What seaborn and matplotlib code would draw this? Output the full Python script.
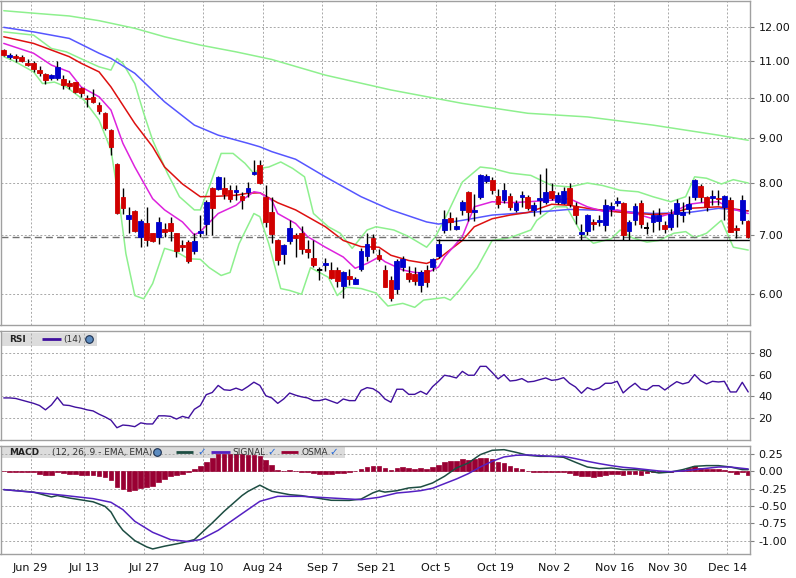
import numpy as np
import matplotlib
matplotlib.use("Agg")
import matplotlib.pyplot as plt
import seaborn as sns
from matplotlib.ticker import FixedLocator, NullLocator, FuncFormatter, FixedFormatter
from matplotlib.patches import Rectangle

# ---------------- data ----------------
opens = [11.31, 11.12, 11.15, 11.12, 10.94, 10.94, 10.74, 10.63, 10.53, 10.53,
         10.50, 10.39, 10.42, 10.25, 9.99, 10.02, 9.81, 9.60, 9.19, 8.41,
         7.72, 7.30, 7.45, 6.97, 7.22, 7.03, 6.96, 7.10, 7.22, 7.03,
         6.82, 6.87, 6.72, 7.03, 7.21, 7.91, 7.89, 7.91, 7.87, 7.82,
         7.75, 7.82, 8.21, 8.39, 7.73, 7.43, 6.91, 6.66, 6.89, 6.99,
         7.03, 6.74, 6.59, 6.39, 6.48, 6.39, 6.39, 6.13, 6.29, 6.17,
         6.40, 6.62, 6.95, 6.65, 6.39, 6.22, 6.08, 6.44, 6.34, 6.32,
         6.14, 6.39, 6.44, 6.63, 7.09, 7.32, 7.11, 7.46, 7.82, 7.42,
         7.73, 8.05, 8.08, 7.74, 7.66, 7.74, 7.47, 7.73, 7.73, 7.47,
         7.66, 7.63, 7.84, 7.63, 7.61, 7.91, 7.55, 7.01, 7.08, 7.24,
         7.24, 7.18, 7.48, 7.60, 7.60, 7.07, 7.27, 7.60, 7.12, 7.23,
         7.26, 7.18, 7.15, 7.40, 7.37, 7.49, 7.72, 7.94, 7.72, 7.70,
         7.71, 7.53, 7.67, 7.12, 7.28, 7.26]
highs = [11.34, 11.22, 11.20, 11.18, 11.04, 11.00, 10.85, 10.66, 10.64, 11.00,
         10.61, 10.48, 10.42, 10.28, 10.06, 10.22, 9.89, 9.64, 9.21, 8.44,
         7.90, 7.52, 7.47, 7.30, 7.53, 7.04, 7.34, 7.22, 7.34, 7.04,
         6.91, 6.90, 7.03, 7.38, 7.67, 7.93, 8.15, 8.13, 7.96, 7.97,
         7.82, 8.04, 8.51, 8.50, 7.96, 7.73, 6.93, 6.84, 7.27, 7.03,
         7.17, 6.91, 6.90, 6.44, 6.59, 6.52, 6.44, 6.37, 6.41, 6.27,
         6.76, 7.03, 7.01, 6.75, 6.47, 6.29, 6.58, 6.62, 6.46, 6.44,
         6.39, 6.47, 6.60, 6.93, 7.47, 7.43, 7.34, 7.67, 7.85, 7.79,
         8.20, 8.19, 8.13, 7.89, 8.01, 7.80, 7.67, 7.85, 7.76, 7.63,
         8.20, 8.32, 8.01, 7.83, 7.93, 8.01, 7.63, 7.21, 7.40, 7.30,
         7.37, 7.69, 7.63, 7.72, 7.63, 7.27, 7.60, 7.67, 7.24, 7.47,
         7.50, 7.26, 7.48, 7.69, 7.63, 7.74, 8.10, 7.99, 7.74, 7.87,
         7.86, 7.76, 7.72, 7.18, 7.76, 7.27]
lows = [11.14, 11.04, 10.96, 10.96, 10.85, 10.69, 10.57, 10.37, 10.46, 10.46,
        10.23, 10.22, 10.11, 10.01, 9.75, 9.85, 9.58, 9.19, 8.61, 7.39,
        7.40, 7.03, 7.05, 6.78, 6.81, 6.87, 6.84, 6.96, 6.89, 6.61,
        6.72, 6.51, 6.67, 6.96, 6.99, 7.00, 7.86, 7.69, 7.62, 7.67,
        7.49, 7.72, 8.17, 7.99, 7.15, 6.85, 6.48, 6.49, 6.84, 6.61,
        6.67, 6.60, 6.44, 6.23, 6.37, 6.25, 6.11, 5.94, 6.14, 6.16,
        6.37, 6.55, 6.68, 6.54, 6.11, 5.89, 6.00, 6.37, 6.19, 6.14,
        6.04, 6.11, 6.38, 6.59, 7.04, 7.09, 7.09, 7.38, 7.25, 7.25,
        7.68, 8.01, 7.79, 7.51, 7.61, 7.47, 7.42, 7.53, 7.47, 7.35,
        7.39, 7.58, 7.67, 7.58, 7.58, 7.53, 7.20, 6.90, 7.00, 7.09,
        7.16, 7.07, 7.35, 7.54, 6.91, 6.91, 7.19, 7.12, 7.01, 7.05,
        7.09, 7.04, 7.09, 7.15, 7.24, 7.40, 7.66, 7.63, 7.44, 7.56,
        7.56, 7.27, 7.05, 6.94, 7.20, 6.94]
closes = [11.17, 11.18, 11.09, 11.00, 10.88, 10.78, 10.65, 10.47, 10.59, 10.83,
          10.34, 10.31, 10.15, 10.13, 9.95, 9.88, 9.65, 9.24, 8.80, 7.41,
          7.51, 7.37, 7.07, 7.26, 6.90, 6.89, 7.23, 7.06, 7.07, 6.72,
          6.79, 6.55, 6.89, 7.07, 7.63, 7.50, 8.13, 7.78, 7.69, 7.86,
          7.67, 7.90, 8.25, 8.01, 7.24, 7.01, 6.56, 6.82, 7.12, 6.95,
          6.75, 6.70, 6.48, 6.39, 6.51, 6.26, 6.21, 6.35, 6.24, 6.25,
          6.71, 6.83, 6.75, 6.58, 6.12, 5.94, 6.55, 6.57, 6.25, 6.21,
          6.35, 6.19, 6.57, 6.84, 7.30, 7.24, 7.16, 7.63, 7.42, 7.47,
          8.17, 8.15, 7.87, 7.58, 7.87, 7.52, 7.60, 7.77, 7.51, 7.57,
          7.70, 7.82, 7.71, 7.77, 7.84, 7.58, 7.37, 7.05, 7.37, 7.21,
          7.28, 7.56, 7.54, 7.64, 7.00, 7.24, 7.54, 7.21, 7.12, 7.37,
          7.37, 7.11, 7.40, 7.60, 7.43, 7.58, 8.08, 7.72, 7.52, 7.74,
          7.68, 7.75, 7.06, 7.09, 7.66, 6.96]

# long moving average (light green, top)
ma_long_idx = [0, 5, 11, 16, 22, 27, 33, 39, 45, 54, 65, 77, 88, 98, 109, 120, 125]
ma_long = [12.53, 12.45, 12.36, 12.21, 11.97, 11.71, 11.46, 11.26, 11.04, 10.60,
           10.20, 9.85, 9.60, 9.51, 9.31, 9.07, 8.95]
# blue moving average
ma_blue_idx = [0, 5, 11, 16, 18, 22, 27, 32, 36, 41, 43, 45, 49, 54, 60, 65, 71, 73,
               77, 82, 88, 92, 95, 98, 103, 109, 115, 120, 125]
ma_blue = [12.00, 11.86, 11.66, 11.22, 11.07, 10.65, 9.89, 9.31, 9.07, 8.88, 8.80,
           8.69, 8.52, 8.14, 7.73, 7.47, 7.24, 7.20, 7.27, 7.37, 7.42, 7.45, 7.48,
           7.47, 7.45, 7.40, 7.42, 7.50, 7.45]
# red moving average
ma_red_idx = [0, 5, 11, 13, 16, 18, 22, 25, 27, 30, 33, 36, 39, 41, 43, 46, 49, 51,
              54, 57, 60, 63, 65, 68, 71, 73, 77, 79, 82, 85, 88, 92, 95, 98, 103,
              109, 112, 115, 120, 125]
ma_red = [11.71, 11.51, 11.12, 10.93, 10.69, 10.28, 9.35, 8.80, 8.35, 7.99, 7.73,
          7.74, 7.76, 7.80, 7.81, 7.61, 7.47, 7.34, 7.15, 6.90, 6.79, 6.78, 6.64,
          6.55, 6.50, 6.58, 6.90, 7.15, 7.30, 7.37, 7.42, 7.58, 7.56, 7.50, 7.43,
          7.38, 7.40, 7.50, 7.53, 7.45]
# magenta moving average
ma_mag_idx = [0, 5, 8, 11, 13, 16, 18, 20, 22, 25, 27, 30, 32, 33, 36, 39, 40, 42,
              43, 45, 46, 49, 51, 54, 57, 59, 61, 63, 64, 67, 69, 71, 73, 74, 77,
              79, 82, 85, 88, 92, 95, 98, 101, 103, 106, 109, 112, 115, 117, 120,
              122, 125]
ma_mag = [11.51, 11.22, 10.88, 10.69, 10.28, 10.02, 9.68, 8.88, 8.35, 7.69, 7.47,
          7.24, 7.00, 7.06, 7.40, 7.56, 7.66, 7.83, 7.81, 7.66, 7.40, 7.21, 6.97,
          6.78, 6.61, 6.42, 6.50, 6.61, 6.53, 6.39, 6.35, 6.34, 6.44, 6.61, 6.97,
          7.53, 7.63, 7.61, 7.63, 7.66, 7.69, 7.53, 7.43, 7.47, 7.40, 7.30, 7.40,
          7.58, 7.61, 7.63, 7.50, 7.40]
# Bollinger bands
bb_up_idx = [0, 5, 8, 10.5, 13.5, 16, 18, 19, 20, 22, 23.5, 25, 27.5, 29.5, 32, 33,
             34.5, 36.5, 38.5, 40.5, 42, 43, 44.5, 46.5, 48.5, 50.5, 52, 54.5, 56.5,
             58.5, 61, 62.5, 65.5, 68, 71, 72.5, 74.5, 77, 80, 82, 85, 88.5, 92, 95,
             98, 100.5, 103.5, 106.5, 109, 112, 114.5, 116, 118, 120.5, 122.5, 125]
bb_up = [11.86, 11.76, 11.36, 11.26, 11.02, 10.83, 10.74, 11.07, 10.93, 10.37, 9.60,
         8.95, 8.21, 7.73, 7.47, 7.47, 7.93, 8.65, 8.65, 8.43, 8.21, 8.32, 8.35, 8.46,
         8.32, 8.14, 7.40, 7.15, 7.03, 6.76, 7.09, 7.15, 7.09, 6.97, 6.78, 6.97, 7.40,
         8.03, 8.35, 8.32, 8.22, 8.17, 7.96, 7.93, 8.01, 7.96, 7.86, 7.83, 7.73, 7.63,
         7.73, 8.14, 8.11, 7.99, 8.08, 8.01]
bb_lo_idx = [0, 2, 5, 6.5, 8.5, 10.5, 13.5, 16, 18, 19.5, 20.5, 22, 23.5, 25, 27, 29,
             31, 33, 34.5, 36.5, 38, 39.5, 42, 43, 44.5, 46.5, 48, 50, 51.5, 54.5, 56,
             57.5, 60, 62.5, 64.5, 67, 69, 70.5, 74, 75, 76.5, 79.5, 82, 85, 88.5,
             89.5, 92.5, 94.5, 97, 99, 102, 103.5, 105.5, 108, 110, 112.5, 114.5, 116,
             118, 120.5, 122.5, 125]
bb_lo = [11.12, 10.97, 10.69, 10.37, 10.41, 10.28, 9.93, 9.43, 8.73, 7.53, 6.67,
         5.98, 5.93, 6.17, 6.76, 6.70, 6.58, 6.57, 6.43, 6.30, 6.35, 6.84, 7.40, 7.34,
         6.84, 6.09, 6.06, 6.00, 6.43, 6.27, 5.98, 6.11, 6.09, 6.02, 5.82, 5.86, 5.80,
         5.91, 5.95, 5.91, 6.06, 6.43, 6.90, 6.95, 7.09, 7.27, 7.53, 7.53, 7.03, 6.85,
         6.93, 7.09, 6.95, 6.87, 6.90, 7.03, 7.06, 6.95, 7.03, 7.27, 6.78, 6.73]
last_price = 6.96
support_level = 6.90
support_start = 72.5

rsi = [38.5, 38.5, 38, 36.5, 35, 33.5, 31.5, 27.5, 32, 39,
       32, 31.5, 30, 29, 27.5, 26.5, 23.5, 21, 18, 11,
       13.5, 13, 12, 15.5, 14.5, 14.5, 22, 22, 21.5, 19,
       21.5, 20, 28, 31.5, 41.5, 43.5, 50, 46, 45.5, 47.5,
       45.5, 49, 53, 50, 40.5, 38.5, 33.5, 37.5, 43, 41,
       39.5, 38.5, 36, 36, 37.5, 35.5, 33.5, 37.5, 36, 36,
       45.5, 48, 47, 43.5, 37.5, 34.5, 46.5, 46.5, 41.8, 41.8,
       44.6, 41.8, 48.9, 53.8, 59.4, 58.4, 56.9, 63, 59.4, 59.4,
       67.6, 67.6, 62, 56, 60, 54.1, 54.7, 56.3, 53.2, 53.8,
       55.4, 56.9, 54.7, 55.4, 57.2, 52, 48.6, 42.8, 48, 45.8,
       47.7, 52, 52, 53.8, 43.1, 48, 52, 46.8, 45.8, 49.8,
       49.8, 45.8, 49.8, 53.5, 51.4, 52.9, 60, 54.4, 51.4, 53.8,
       53.2, 53.8, 44, 44, 52.9, 44]

macd_idx = [0, 5, 8, 9, 11, 15, 17, 18, 19, 20, 22, 24, 25, 27, 30, 32, 35, 37, 40,
            41, 43, 45, 48, 50, 55, 58, 60, 62, 63, 64, 66, 68, 70, 72, 74, 76, 78,
            80, 82, 84, 86, 88, 90, 92, 94, 96, 98, 100, 102, 104, 106, 108, 110,
            112, 114, 116, 118, 120, 122, 124, 125]
macd = [-0.264, -0.30, -0.37, -0.35, -0.385, -0.44, -0.505, -0.587, -0.736, -0.851,
        -1.00, -1.09, -1.12, -1.08, -1.03, -0.985, -0.745, -0.577, -0.35, -0.29,
        -0.20, -0.288, -0.337, -0.351, -0.418, -0.42, -0.40, -0.31, -0.28, -0.30,
        -0.28, -0.24, -0.226, -0.168, -0.072, 0.048, 0.12, 0.24, 0.303, 0.312,
        0.274, 0.231, 0.216, 0.216, 0.202, 0.13, 0.062, 0.038, 0.048, 0.024, 0.024,
        0.01, -0.024, -0.01, 0.024, 0.072, 0.082, 0.082, 0.062, 0.024, 0.024]
signal_idx = [0, 5, 10, 15, 18, 20, 22, 25, 28, 31, 33, 36, 40, 43, 46, 50, 55, 60,
              63, 66, 68, 70, 72, 74, 76, 78, 80, 82, 84, 86, 88, 90, 92, 94, 96, 98,
              100, 102, 104, 106, 108, 110, 112, 114, 116, 118, 120, 122, 124, 125]
signal = [-0.264, -0.303, -0.346, -0.394, -0.447, -0.553, -0.721, -0.88, -0.985,
          -1.014, -0.985, -0.851, -0.611, -0.433, -0.361, -0.361, -0.385, -0.409,
          -0.375, -0.313, -0.298, -0.279, -0.245, -0.178, -0.111, -0.034, 0.062,
          0.144, 0.207, 0.231, 0.236, 0.226, 0.216, 0.216, 0.183, 0.144, 0.111,
          0.082, 0.058, 0.043, 0.024, 0.005, -0.005, 0.005, 0.024, 0.043, 0.062,
          0.062, 0.043, 0.034]
osma = [0, -0.005, -0.01, -0.01, -0.015, -0.015, -0.034, -0.048, -0.048, -0.015,
        -0.024, -0.034, -0.034, -0.048, -0.048, -0.058, -0.072, -0.087, -0.13, -0.226,
        -0.255, -0.279, -0.264, -0.24, -0.226, -0.207, -0.159, -0.111, -0.072, -0.058,
        -0.034, -0.005, 0.034, 0.072, 0.13, 0.19, 0.25, 0.255, 0.255, 0.25,
        0.25, 0.24, 0.24, 0.226, 0.168, 0.087, 0.024, 0.0, 0.014, 0.0,
        -0.005, -0.01, -0.024, -0.034, -0.034, -0.034, -0.024, -0.024, -0.015, 0.0,
        0.034, 0.062, 0.072, 0.072, 0.043, 0.024, 0.048, 0.062, 0.043, 0.034,
        0.048, 0.034, 0.062, 0.087, 0.135, 0.144, 0.154, 0.178, 0.168, 0.183,
        0.192, 0.192, 0.178, 0.135, 0.12, 0.072, 0.048, 0.034, 0.0, -0.005,
        -0.005, -0.005, -0.005, -0.005, -0.01, -0.024, -0.058, -0.072, -0.072, -0.087,
        -0.072, -0.058, -0.034, -0.038, -0.048, -0.038, -0.038, -0.048, -0.024, -0.014,
        -0.014, -0.005, -0.005, 0.0, 0.024, 0.048, 0.072, 0.053, 0.038, 0.038,
        0.034, 0.024, -0.01, -0.034, -0.014, -0.048]

date_labels = ["Jun 29", "Jul 13", "Jul 27", "Aug 10", "Aug 24", "Sep 7", "Sep 21",
               "Oct 5", "Oct 19", "Nov 2", "Nov 16", "Nov 30", "Dec 14"]
date_pos = [4.5, 13.5, 23.5, 33.5, 43.5, 53.5, 62.5, 72.5, 82.5, 92.5, 102.5, 111.5, 121.5]
price_ticks = [6, 7, 8, 9, 10, 11, 12]
rsi_ticks = [20, 40, 60, 80]
macd_ticks = [-1.0, -0.75, -0.5, -0.25, 0.0, 0.25]
macd_tick_labels = ["-1.00", "-0.75", "-0.50", "-0.25", "0.00", "0.25"]

# ---------------- styling ----------------
sns.set_style("white")
plt.rcParams['font.family'] = ['DejaVu Sans']

C_UP, C_DN = '#0000cc', '#d00000'
C_BB = '#8ef08e'
C_BLUE = '#5656ff'
C_RED = '#dd1010'
C_MAG = '#dd22dd'
C_RSI = '#40109e'
C_MACD = '#1d4d42'
C_SIG = '#5521c2'
C_OSMA = '#990033'
GRID = '#a8a8a8'
SPINE = '#a0a0a0'

W, H = 796, 578
fig = plt.figure(figsize=(W / 100, H / 100), dpi=100)
fig.patch.set_facecolor('white')

def axes_px(x0, y0, x1, y1):
    return fig.add_axes([x0 / W, 1 - y1 / H, (x1 - x0) / W, (y1 - y0) / H])

ax1 = axes_px(0.5, 1, 750, 325)
ax2 = axes_px(0.5, 331, 750, 440)
ax3 = axes_px(0.5, 446, 750, 554.3)

x = np.arange(len(closes))
o = np.array(opens); h = np.array(highs); l = np.array(lows); c = np.array(closes)

for ax in (ax1, ax2, ax3):
    ax.set_xlim(-0.55, 125.3)
    ax.set_axisbelow(True)
    ax.xaxis.set_major_locator(FixedLocator(date_pos))
    ax.grid(True, color=GRID, linestyle=(0, (2, 2)), linewidth=0.7)
    for s in ax.spines.values():
        s.set_color(SPINE)
        s.set_linewidth(1.0)
    ax.yaxis.tick_right()
    ax.tick_params(axis='y', which='both', direction='out', length=3, width=0.8,
                   color='#808080', labelsize=8, pad=3, labelcolor='#111111')
    ax.tick_params(axis='x', which='both', length=0, labelbottom=False)

# ---------------- main price panel ----------------
ax1.set_yscale('log')
ax1.set_ylim(5.54, 12.85)
ax1.yaxis.set_major_locator(FixedLocator(price_ticks))
ax1.yaxis.set_minor_locator(NullLocator())
ax1.yaxis.set_major_formatter(FuncFormatter(lambda v, p: f"{v:.2f}"))

for idx, vals, col in [(ma_long_idx, ma_long, C_BB), (bb_up_idx, bb_up, C_BB),
                       (bb_lo_idx, bb_lo, C_BB), (ma_blue_idx, ma_blue, C_BLUE),
                       (ma_red_idx, ma_red, C_RED), (ma_mag_idx, ma_mag, C_MAG)]:
    sns.lineplot(x=idx, y=vals, ax=ax1, color=col, linewidth=1.1, zorder=2,
                 legend=False)

ax1.axhline(last_price, color='#707070', linestyle=(0, (5, 3)), linewidth=1.0, zorder=2)
ax1.hlines(support_level, support_start, 125.3, color='black', linewidth=1.0, zorder=2)

ax1.vlines(x, l, h, color='black', linewidth=1.0, zorder=3)
doji = np.isclose(o, c)
up = c > o
cols = np.where(up, C_UP, C_DN)
body_lo = np.minimum(o, c)
body_h = np.abs(c - o)
nd = ~doji
ax1.bar(x[nd], body_h[nd], bottom=body_lo[nd], width=0.8, color=cols[nd],
        edgecolor=cols[nd], linewidth=0.6, zorder=4)
ax1.hlines(c[doji], x[doji] - 0.42, x[doji] + 0.42, color='black', linewidth=1.4, zorder=4)
ax1.set_xlabel(''); ax1.set_ylabel('')

# ---------------- RSI panel ----------------
ax2.set_ylim(-0.3, 100.2)
ax2.yaxis.set_major_locator(FixedLocator(rsi_ticks))
ax2.yaxis.set_major_formatter(FuncFormatter(lambda v, p: f"{v:.0f}"))
sns.lineplot(x=x, y=rsi, ax=ax2, color=C_RSI, linewidth=1.0, zorder=3, legend=False)
ax2.set_xlabel(''); ax2.set_ylabel('')

# ---------------- MACD panel ----------------
ax3.set_ylim(-1.197, 0.365)
ax3.yaxis.set_major_locator(FixedLocator(macd_ticks))
ax3.yaxis.set_major_formatter(FixedFormatter(macd_tick_labels))
ax3.bar(x, osma, width=0.78, color=C_OSMA, edgecolor=C_OSMA, linewidth=0.5, zorder=2)
sns.lineplot(x=macd_idx, y=macd, ax=ax3, color=C_MACD, linewidth=1.1, zorder=3, legend=False)
sns.lineplot(x=signal_idx, y=signal, ax=ax3, color=C_SIG, linewidth=1.1, zorder=3, legend=False)
ax3.set_xlabel(''); ax3.set_ylabel('')
ax3.tick_params(axis='x', length=3, width=0.8, color='#808080', labelbottom=True,
                labelsize=8, pad=3, labelcolor='#111111')
ax3.xaxis.set_major_formatter(FixedFormatter(date_labels))

# ---------------- legend boxes ----------------
def to_ax(ax, X, Y, y_top, y_bot):
    return ((X - 0.5) / 749.5, (y_bot - Y) / (y_bot - y_top))

def legend_box(ax, y_top, y_bot, x0, x1, yb0, yb1):
    ax0, ay0 = to_ax(ax, x0, yb1, y_top, y_bot)
    ax1_, ay1 = to_ax(ax, x1, yb0, y_top, y_bot)
    ax.add_patch(Rectangle((ax0, ay0), ax1_ - ax0, ay1 - ay0, transform=ax.transAxes,
                           facecolor='#dcdcdc', edgecolor='none', zorder=0.3))

def ltext(ax, X, Y, s, y_top, y_bot, **kw):
    px, py = to_ax(ax, X, Y, y_top, y_bot)
    ax.text(px, py, s, transform=ax.transAxes, va='center', ha='left', zorder=6, **kw)

def lline(ax, X0, X1, Y, col, y_top, y_bot):
    p0 = to_ax(ax, X0, Y, y_top, y_bot)
    p1 = to_ax(ax, X1, Y, y_top, y_bot)
    ax.plot([p0[0], p1[0]], [p0[1], p1[1]], transform=ax.transAxes, color=col,
            linewidth=2.0, zorder=6, solid_capstyle='butt')

def icon(ax, X, Y, y_top, y_bot):
    px, py = to_ax(ax, X, Y, y_top, y_bot)
    ax.plot([px], [py], transform=ax.transAxes, marker='o', markersize=5.5,
            markerfacecolor='#5d8cc0', markeredgecolor='#1c3050', markeredgewidth=0.8,
            zorder=6)

def check(ax, X, Y, y_top, y_bot):
    ltext(ax, X, Y, '\u2713', y_top, y_bot, color='#1e63d6', fontsize=7.5, fontweight='bold')

# RSI legend
rt, rb = 331, 440
legend_box(ax2, rt, rb, 2, 97, 332.5, 346)
ltext(ax2, 9, 339.5, 'RSI', rt, rb, fontsize=6.5, fontweight='bold', color='#222222')
lline(ax2, 42, 61, 339, C_RSI, rt, rb)
ltext(ax2, 63, 339.5, '(14)', rt, rb, fontsize=6.5, color='#333333')
icon(ax2, 89, 339, rt, rb)

# MACD legend
mt, mb = 446, 554.3
legend_box(ax3, mt, mb, 2, 345, 446.5, 458)
ltext(ax3, 9, 452.5, 'MACD', mt, mb, fontsize=6.5, fontweight='bold', color='#222222')
ltext(ax3, 52, 452.5, '(12, 26, 9 - EMA, EMA)', mt, mb, fontsize=6.5, color='#333333')
icon(ax3, 157, 452, mt, mb)
lline(ax3, 176, 193, 452, C_MACD, mt, mb)
check(ax3, 197, 452.5, mt, mb)
lline(ax3, 211, 230, 452, C_SIG, mt, mb)
ltext(ax3, 232, 452.5, 'SIGNAL', mt, mb, fontsize=6.5, color='#333333')
check(ax3, 267, 452.5, mt, mb)
lline(ax3, 281, 298, 452, C_OSMA, mt, mb)
ltext(ax3, 301, 452.5, 'OSMA', mt, mb, fontsize=6.5, color='#333333')
check(ax3, 329, 452.5, mt, mb)

fig.savefig('out.png', dpi=100, facecolor='white')
